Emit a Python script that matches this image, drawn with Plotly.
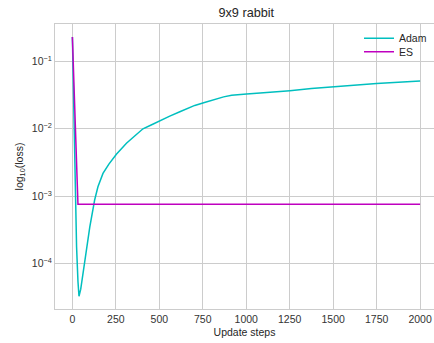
import plotly.graph_objects as go

adam_steps = [0, 8, 16, 24, 32, 38, 48, 61, 80, 100, 128, 147, 176, 210, 253, 311, 360, 406,
              450, 499, 560, 618, 665, 704, 760, 819, 870, 916, 960, 1002, 1080, 1165, 1251,
              1375, 1499, 1625, 1750, 1875, 2000]
adam_loss = [0.23, 1.5e-2, 1.0e-3, 1.8e-4, 5.5e-5, 3.3e-5, 4.2e-5, 7.2e-5, 1.8e-4, 3.5e-4,
             8.8e-4, 1.38e-3, 2.18e-3, 3.0e-3, 4.2e-3, 6.1e-3, 7.9e-3, 1.0e-2,
             1.13e-2, 1.31e-2, 1.54e-2, 1.79e-2, 2.02e-2, 2.22e-2, 2.46e-2, 2.74e-2, 2.97e-2,
             3.14e-2, 3.23e-2, 3.28e-2, 3.38e-2, 3.50e-2, 3.67e-2,
             3.95e-2, 4.21e-2, 4.45e-2, 4.70e-2, 4.9e-2, 5.1e-2]

es_steps = [0, 32, 2000]
es_loss = [0.23, 7.6e-4, 7.6e-4]

x_ticks = [0, 250, 500, 750, 1000, 1250, 1500, 1750, 2000]
y_ticks = [1e-4, 1e-3, 1e-2, 1e-1]
y_tick_text = ["10<sup>\u22124</sup>", "10<sup>\u22123</sup>", "10<sup>\u22122</sup>", "10<sup>\u22121</sup>"]

FONT = "Liberation Sans, Arial, sans-serif"
GRID = "#cccccc"

fig = go.Figure()
fig.add_trace(go.Scatter(x=adam_steps, y=adam_loss, mode="lines", name="Adam", showlegend=True,
                         line=dict(color="#00BFBF", width=1.5), legend="legend"))
fig.add_trace(go.Scatter(x=es_steps, y=es_loss, mode="lines", name="ES", showlegend=True,
                         line=dict(color="#BF00BF", width=1.5), legend="legend2"))

leg_common = dict(x=(359 - 55) / 379, xanchor="left", yanchor="middle", bgcolor="rgba(0,0,0,0)",
                  font=dict(size=10.5, color="#262626"), itemwidth=30)

fig.update_layout(
    width=434, height=343,
    showlegend=True,
    margin=dict(l=55, r=0, t=24, b=34),
    paper_bgcolor="white", plot_bgcolor="white",
    font=dict(family=FONT, size=10.5, color="#333333"),
    title=dict(text="9x9 rabbit", x=0.5675, xanchor="center", y=1 - 13 / 343, yanchor="middle",
               font=dict(size=12.7, color="#262626")),
    legend=dict(y=1 - (38.3 - 24) / 285, **leg_common),
    legend2=dict(y=1 - (51.7 - 24) / 285, **leg_common),
    xaxis=dict(range=[-100, 2080], tickvals=x_ticks, showgrid=True, gridcolor=GRID, gridwidth=1,
               zeroline=False, showline=True, linecolor=GRID, mirror=True, ticks="",
               title=dict(text="Update steps", standoff=5, font=dict(size=10.5, color="#262626")),
               tickfont=dict(size=10.5, color="#333333")),
    yaxis=dict(type="log", range=[-4.671, -0.447], tickvals=y_ticks, ticktext=y_tick_text,
               showgrid=True, gridcolor=GRID, gridwidth=1, zeroline=False, showline=True,
               linecolor=GRID, mirror=True, ticks="",
               title=dict(text="log<sub>10</sub>(loss)", standoff=6, font=dict(size=10.5, color="#262626")),
               tickfont=dict(size=10.5, color="#333333")),
)

fig.write_html("out.html")
